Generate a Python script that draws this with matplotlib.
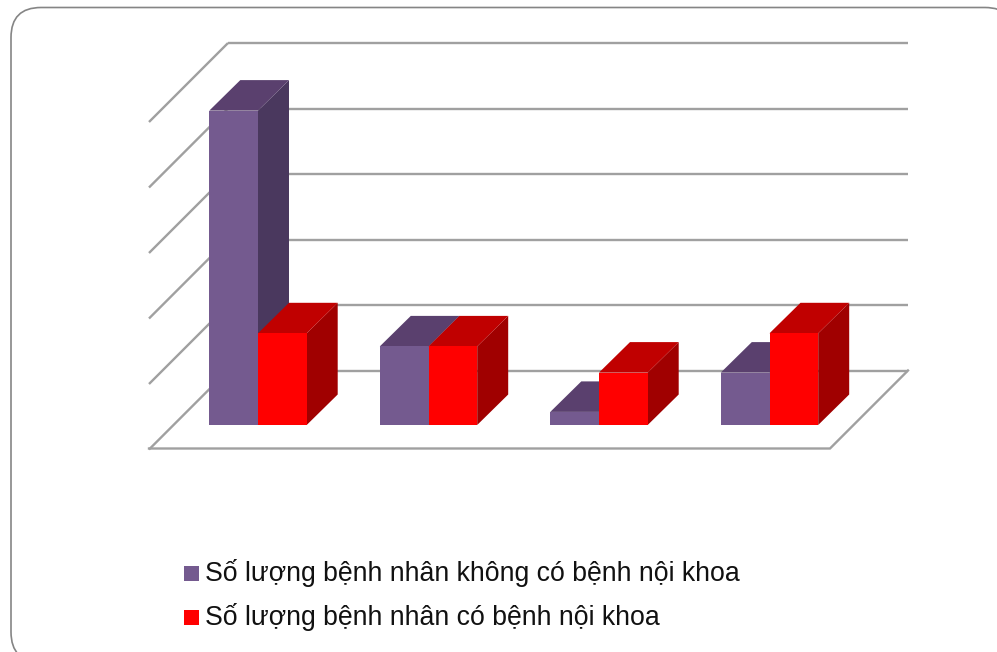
import matplotlib
matplotlib.use("Agg")
import matplotlib.pyplot as plt
from matplotlib.patches import FancyBboxPatch, Polygon, Rectangle
import numpy as np

plt.rcParams['font.family'] = ['Liberation Sans', 'DejaVu Sans']

W, H = 997, 652

series_names = ['Số lượng bệnh nhân không có bệnh nội khoa',
                'Số lượng bệnh nhân có bệnh nội khoa']
khong_benh = [24, 6, 1, 4]
co_benh = [7, 6, 4, 7]
grid_values = [0, 5, 10, 15, 20, 25]

purple = ('#745A8F', '#5A406E', '#4A385E')
red = ('#FF0000', '#C00000', '#A00000')
grid_color = '#A0A0A0'

# one category = 170.5 px, one value unit = 13.1 px
PX_X = 170.5
PX_Y = 13.1
bar_w = 48.7 / PX_X
bar_dx, bar_dy = 31 / PX_X, 30.5 / PX_Y
wall_dx, wall_dy = 79 / PX_X, 54.5 / PX_Y
floor_y = -23.5 / PX_Y
wall_left, wall_right = -30 / PX_X, 650 / PX_X

fig = plt.figure(figsize=(W / 100, H / 100), dpi=100, facecolor='white')

# frame of the slide, runs off the right and bottom edges
bg = fig.add_axes([0, 0, 1, 1])
bg.set_xlim(0, W)
bg.set_ylim(H, 0)
bg.axis('off')
bg.add_patch(FancyBboxPatch((41, 37.5), 944, 594.5, boxstyle='round,pad=30,rounding_size=30',
                            fc='white', ec='#858585', lw=1.2, clip_on=False))

ax = fig.add_axes([0, 0, 1, 1])
ax.patch.set_alpha(0)
ax.set_xlim(-258 / PX_X, (W - 258) / PX_X)
ax.set_ylim((425 - H) / PX_Y, 425 / PX_Y)
ax.axis('off')


def draw_wall():
    for v in grid_values:
        y = v + wall_dy
        ax.plot([wall_left, wall_right], [y, y], color=grid_color, lw=1.7, solid_capstyle='butt', zorder=1)
        ax.plot([wall_left, wall_left - 79 / PX_X], [y, y - 79 / PX_Y], color=grid_color, lw=1.7,
                solid_capstyle='butt', zorder=1)
    # floor edges
    fx = [wall_left - 79 / PX_X, wall_right - 78 / PX_X, wall_right]
    fy = [floor_y, floor_y, wall_dy]
    ax.plot(fx, fy, color=grid_color, lw=1.7, solid_joinstyle='miter', zorder=1)


def draw_bar(x, v, colors, z):
    ax.bar(x, v, width=bar_w, align='edge', color=colors[0], lw=0, zorder=z + 0.2)
    top = [(x, v), (x + bar_dx, v + bar_dy), (x + bar_w + bar_dx, v + bar_dy), (x + bar_w, v)]
    side = [(x + bar_w, 0), (x + bar_w + bar_dx, bar_dy), (x + bar_w + bar_dx, v + bar_dy), (x + bar_w, v)]
    ax.add_patch(Polygon(side, fc=colors[2], lw=0, zorder=z))
    ax.add_patch(Polygon(top, fc=colors[1], lw=0, zorder=z + 0.1))


draw_wall()
for i in range(len(khong_benh)):
    draw_bar(i - bar_w, khong_benh[i], purple, 2 + i)
    draw_bar(i, co_benh[i], red, 2.5 + i)

# legend entries, square bottom sits on the text baseline
for name, col, base in zip(series_names, (purple[0], red[0]), (581, 625)):
    bg.add_patch(Rectangle((184, base - 15), 15, 15, fc=col, lw=0))
    bg.text(205, base, name, fontsize=19.2, color='#111111', va='baseline', ha='left')

fig.savefig('out.png', dpi=100)
